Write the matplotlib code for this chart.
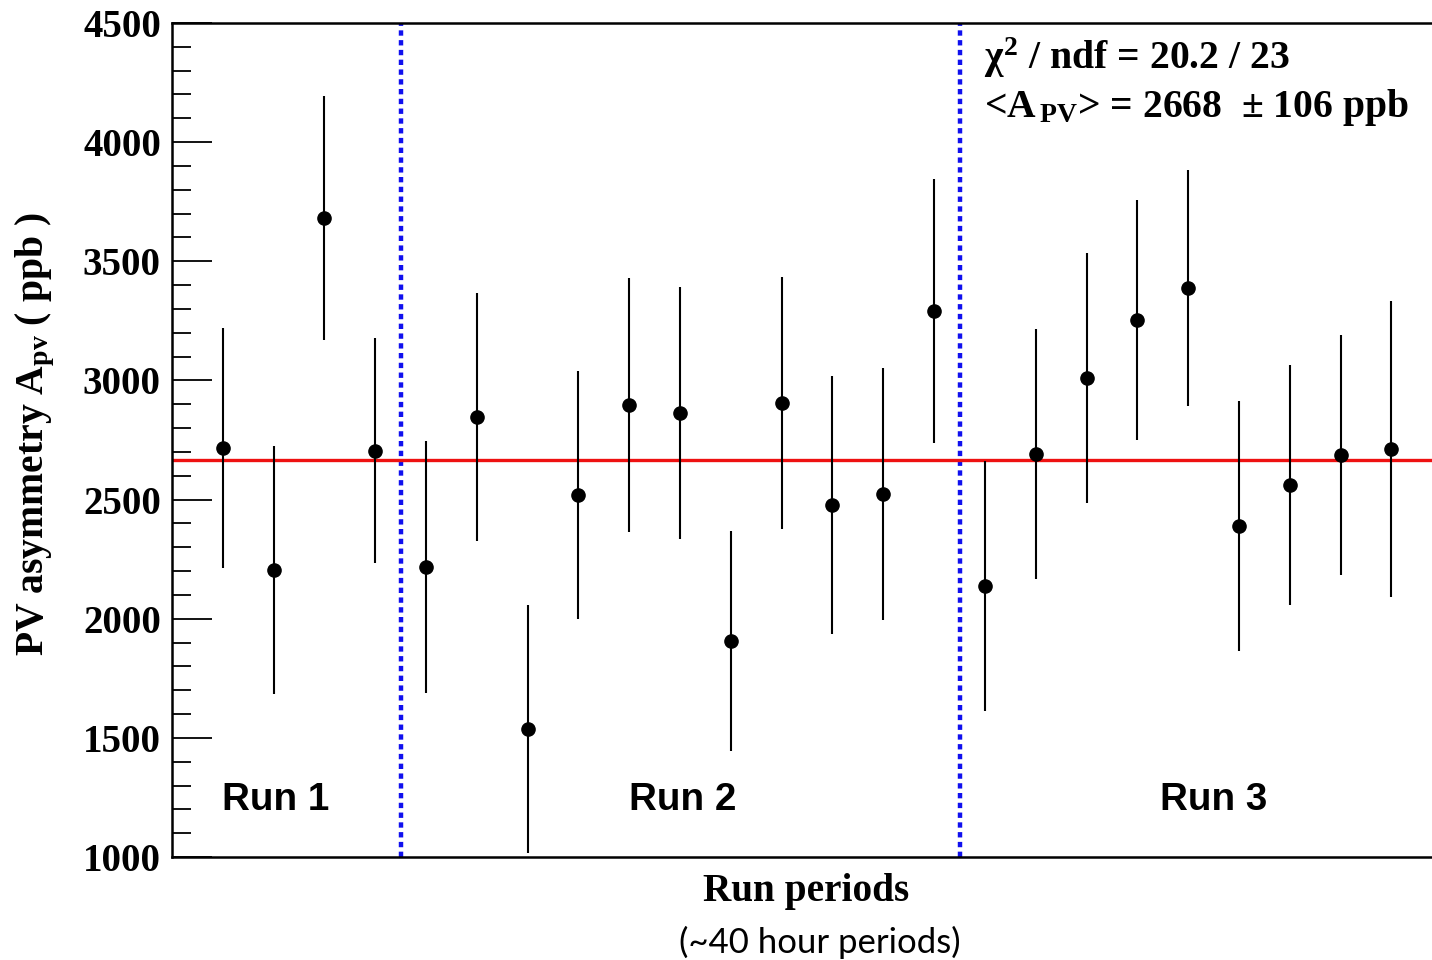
import matplotlib
matplotlib.use("Agg")
import matplotlib.pyplot as plt
from matplotlib.ticker import MultipleLocator

# ---- data ----
periods = list(range(1, 25))
apv = [2716, 2205, 3682, 2704, 2217, 2847, 1537, 2519, 2897, 2863, 1907, 2905,
       2477, 2523, 3291, 2137, 2691, 3010, 3254, 3388, 2389, 2561, 2687, 2712]
apv_err = [505, 520, 512, 472, 529, 522, 520, 522, 531, 529, 463, 530,
           541, 528, 554, 526, 526, 526, 505, 497, 524, 505, 504, 621]
fit_mean = 2668
run_boundaries = [4.5, 15.5]
run_labels = ["Run 1", "Run 2", "Run 3"]
run_label_x = [2.05, 10.05, 20.5]
yticks = [1000, 1500, 2000, 2500, 3000, 3500, 4000, 4500]

plt.rcParams['mathtext.fontset'] = 'custom'
plt.rcParams['mathtext.rm'] = 'Liberation Serif:bold'
plt.rcParams['mathtext.it'] = 'Liberation Serif:bold'
plt.rcParams['mathtext.bf'] = 'Liberation Serif:bold'

fig = plt.figure(figsize=(14.32, 9.6), dpi=100)
ax = fig.add_axes([172/1432, 1-857/960, 1-172/1432, (857-23)/960])

ax.errorbar(periods, apv, yerr=apv_err, fmt='o', color='black', ms=9.5,
            elinewidth=1.5, capsize=0, zorder=3)
ax.axhline(fit_mean, color='#ee1111', lw=2.4, zorder=2)
for b in run_boundaries:
    ax.axvline(b, color='#1010ee', lw=3.2, linestyle=(0, (1.2, 1.0)), zorder=1)

ax.set_xlim(0, 24.8)
ax.set_ylim(1000, 4500)
ax.set_yticks(yticks)
ax.yaxis.set_minor_locator(MultipleLocator(100))
ax.set_xticks([])
ax.tick_params(axis='y', which='major', direction='in', length=29, width=1.3,
               labelsize=28, pad=8)
ax.tick_params(axis='y', which='minor', direction='in', length=14, width=1.3)
for lbl in ax.get_yticklabels():
    lbl.set_fontfamily('Liberation Serif')
    lbl.set_fontweight('bold')

for s in ['left', 'bottom', 'top']:
    ax.spines[s].set_linewidth(1.8)
ax.spines['right'].set_visible(False)

ax.set_ylabel(r"PV asymmetry A$_{\mathrm{pv}}$ ( ppb )", fontfamily='Liberation Serif',
              fontweight='bold', fontsize=28.5, labelpad=12)
ax.yaxis.set_label_coords(-0.091, 0.507)

fig.text(806/1432, 1-892/960, "Run periods", ha='center', va='center',
         fontfamily='Liberation Serif', fontweight='bold', fontsize=28.3)
fig.text(820/1432, 1-942/960, "(~40 hour periods)", ha='center', va='center',
         fontfamily='Lato', fontsize=25)

for x, t in zip(run_label_x, run_labels):
    ax.text(x, 1240, t, ha='center', va='center', fontfamily='Liberation Sans',
            fontweight='bold', fontsize=27.8)

fig.text(984/1432, 1-58/960, r"$\chi^{2}$ / ndf = 20.2 / 23", ha='left', va='center',
         fontfamily='Liberation Serif', fontweight='bold', fontsize=28.5)
fig.text(984/1432, 1-107/960, r"<A$_{\,\mathrm{PV}}$> = 2668  $\pm$ 106 ppb", ha='left',
         va='center', fontfamily='Liberation Serif', fontweight='bold', fontsize=28.5)

fig.savefig("out.png", dpi=100)
